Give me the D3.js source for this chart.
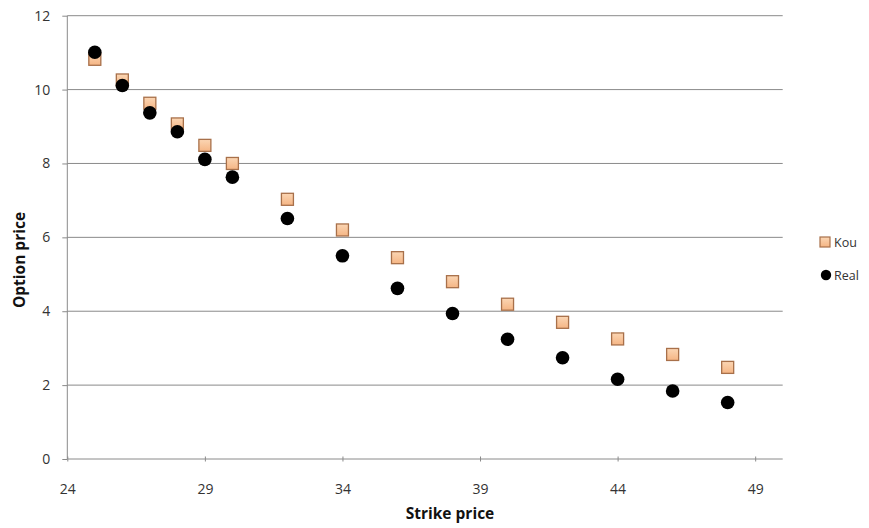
<!DOCTYPE html>
<html><head><meta charset="utf-8">
<script src="https://cdn.jsdelivr.net/npm/d3@7"></script>
<style>body{margin:0;background:#fff}svg{display:block}</style>
</head><body><svg id="c" width="869" height="528"></svg>
<script>
const strikes = [25,26,27,28,29,30,32,34,36,38,40,42,44,46,48];
const kou  = [10.82,10.26,9.63,9.07,8.49,8.00,7.03,6.20,5.45,4.80,4.19,3.70,3.25,2.83,2.48];
const real = [11.01,10.11,9.37,8.86,8.11,7.63,6.51,5.50,4.62,3.94,3.24,2.74,2.16,1.84,1.53];
const xTicks = [24,29,34,39,44,49];
const yTicks = [0,2,4,6,8,10,12];
const seriesNames = ["Kou","Real"];

const svg = d3.select("#c");
const x = d3.scaleLinear().domain([24,50]).range([67.3,782.7]);
const y = d3.scaleLinear().domain([0,12]).range([459,15.7]);
const font = "'Open Sans', 'Liberation Sans', sans-serif";

const defs = svg.append("defs");
const g = defs.append("linearGradient").attr("id","sq").attr("x1","0").attr("y1","0").attr("x2","0").attr("y2","1");
g.append("stop").attr("offset","0").attr("stop-color","#fbd6b4");
g.append("stop").attr("offset","1").attr("stop-color","#f5b584");

// gridlines
svg.append("g").selectAll("line").data(yTicks.filter(d=>d>0)).join("line")
  .attr("x1",x(24)).attr("x2",x(50)).attr("y1",d=>y(d)).attr("y2",d=>y(d))
  .attr("stroke","#8a8a8a").attr("stroke-width",1);

// y axis
const ya = svg.append("g").attr("transform",`translate(${x(24)},0)`)
  .call(d3.axisLeft(y).tickValues(yTicks).tickSize(5).tickPadding(12).tickFormat(d3.format("d")));
// x axis
const xa = svg.append("g").attr("transform",`translate(0,${y(0)})`)
  .call(d3.axisBottom(x).tickValues(xTicks).tickSize(5).tickPadding(20).tickFormat(d3.format("d")));
xa.selectAll(".domain").attr("d",`M${x(24)},0H${x(50)}`);
ya.selectAll(".domain").attr("d",`M0,${y(0)}V${y(12)}`);
[xa,ya].forEach(a=>{
  a.selectAll(".domain,.tick line").attr("stroke","#8a8a8a");
  a.selectAll("text").attr("fill","#333").attr("font-family",font).attr("font-size",14);
});
xa.selectAll(".tick line").attr("transform","translate(0,-2.5)");

// titles
svg.append("text").attr("x",450).attr("y",519).attr("text-anchor","middle")
  .attr("font-family",font).attr("font-weight","bold").attr("font-size",15.5).attr("fill","#111")
  .text("Strike price");
svg.append("text").attr("transform","translate(25,260) rotate(-90)").attr("text-anchor","middle")
  .attr("font-family",font).attr("font-weight","bold").attr("font-size",15.5).attr("fill","#111")
  .text("Option price");

// Kou squares
const s = 12;
svg.append("g").selectAll("rect").data(strikes.map((k,i)=>[k,kou[i]])).join("rect")
  .attr("x",d=>x(d[0])-s/2).attr("y",d=>y(d[1])-s/2).attr("width",s).attr("height",s)
  .attr("fill","url(#sq)").attr("stroke","#a8704a").attr("stroke-width",1.3);
// Real circles
svg.append("g").selectAll("circle").data(strikes.map((k,i)=>[k,real[i]])).join("circle")
  .attr("cx",d=>x(d[0])).attr("cy",d=>y(d[1])).attr("r",6.8).attr("fill","#000");

// legend
const lg = svg.append("g");
lg.append("rect").attr("x",820).attr("y",237).attr("width",10).attr("height",10)
  .attr("fill","url(#sq)").attr("stroke","#a8704a").attr("stroke-width",1.2);
lg.append("circle").attr("cx",826).attr("cy",275).attr("r",5.2).attr("fill","#000");
lg.selectAll("text").data(seriesNames).join("text")
  .attr("x",834).attr("y",(d,i)=>i?280:247).attr("font-family",font).attr("font-size",12.5).attr("fill","#333")
  .text(d=>d);
</script></body></html>
